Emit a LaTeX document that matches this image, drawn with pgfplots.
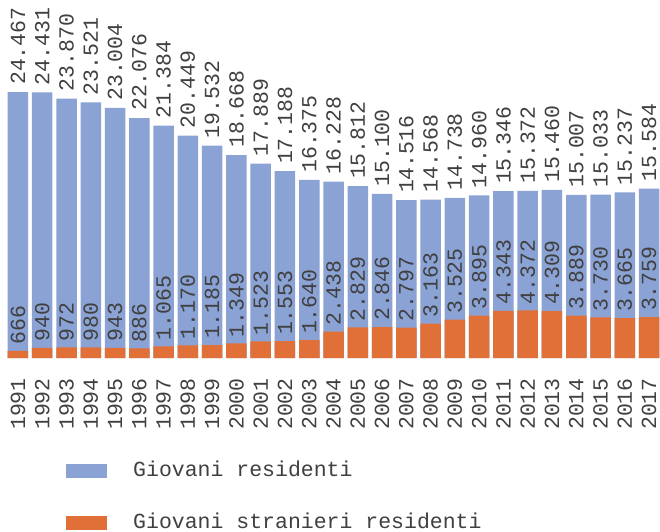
\documentclass[border=0pt]{standalone}
\usepackage{fontspec}
\setmainfont{Liberation Mono}
\usepackage{pgfplots}
\pgfplotsset{compat=1.18}
\definecolor{cblue}{RGB}{138,162,212}
\definecolor{corange}{RGB}{224,112,56}
\newcommand{\lbl}{\fontsize{21.5}{24}\selectfont}

\pgfplotstableread{
x tot str
1991 24467 666
1992 24431 940
1993 23870 972
1994 23521 980
1995 23004 943
1996 22076 886
1997 21384 1065
1998 20449 1170
1999 19532 1185
2000 18668 1349
2001 17889 1523
2002 17188 1553
2003 16375 1640
2004 16228 2438
2005 15812 2829
2006 15100 2846
2007 14516 2797
2008 14568 3163
2009 14738 3525
2010 14960 3895
2011 15346 4343
2012 15372 4372
2013 15460 4309
2014 15007 3889
2015 15033 3730
2016 15237 3665
2017 15584 3759
}\datatab

\begin{document}
\lbl
\begin{tikzpicture}
\begin{axis}[
  scale only axis, width=660pt, height=358pt,
  xmin=1990.26, xmax=2017.45, ymin=0, ymax=32930,
  clip=false,
  ybar, bar width=20.5pt, bar shift=0pt,
  axis line style={draw=none},
  major tick length=0pt,
  ytick=\empty,
  xtick=data,
  xticklabels={1991,1992,1993,1994,1995,1996,1997,1998,1999,2000,2001,2002,2003,2004,2005,2006,2007,2008,2009,2010,2011,2012,2013,2014,2015,2016,2017},
  xticklabel style={rotate=90, anchor=east, inner sep=0pt, text=black!75, font=\lbl\rmfamily},
  xticklabel shift=20pt,
  nodes near coords,
  every node near coord/.append style={rotate=90, anchor=west, inner ysep=0pt, text=black!75, font=\lbl},
  /pgf/number format/1000 sep={.},
  /pgf/number format/assume math mode=true,
  legend style={at={(axis description cs:0.1,-0.288)}, anchor=north west,
    draw=none, fill=none, inner sep=0pt, row sep=33pt, column sep=26pt,
    nodes={inner sep=0pt, text=black!75, font=\lbl}},
  legend cell align=left,
  legend columns=1,
]
\coordinate (tl) at (rel axis cs:0,1);
\addplot+[fill=cblue, draw=none,
  every node near coord/.append style={inner xsep=7pt},
  legend image code/.code={\fill[cblue] (0pt,-7pt) rectangle (41pt,7pt);}]
  table[x=x, y=tot] {\datatab};
\addlegendentry{Giovani residenti}
\addplot+[fill=corange, draw=none,
  every node near coord/.append style={inner xsep=6pt},
  legend image code/.code={\fill[corange] (0pt,-7pt) rectangle (41pt,7pt);}]
  table[x=x, y=str] {\datatab};
\addlegendentry{Giovani stranieri residenti}
\end{axis}
\pgfresetboundingbox
\path (tl) rectangle ([shift={(660pt,-531pt)}]tl);
\end{tikzpicture}
\end{document}
